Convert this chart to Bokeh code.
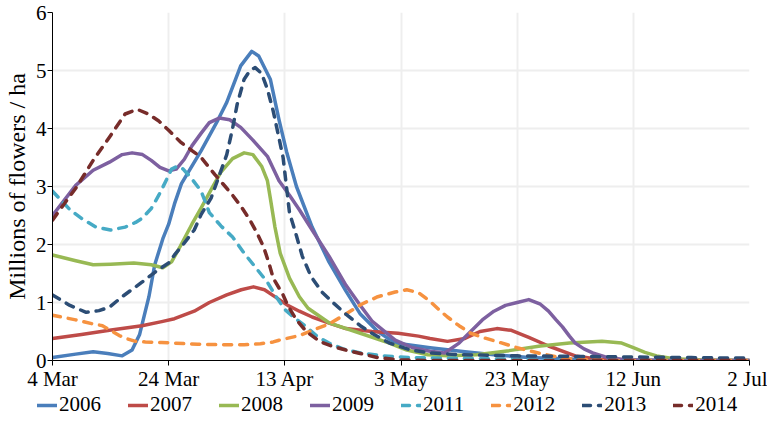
from bokeh.plotting import figure
from bokeh.models import Range1d, FixedTicker, Legend, LegendItem
from bokeh.layouts import column
from bokeh.embed import file_html
from bokeh.resources import INLINE

# x = days since 4 March
tick_days = [0, 20, 40, 60, 80, 100, 120]
tick_labels = ["4 Mar", "24 Mar", "13 Apr", "3 May", "23 May", "12 Jun", "2 Jul"]

years = ["2006", "2007", "2008", "2009", "2011", "2012", "2013", "2014"]
colors = ["#4A7EBB", "#BE4B48", "#98B954", "#7D60A0", "#46AAC5", "#F69240", "#2C4D75", "#772C2A"]
dashed = [False, False, False, False, True, True, True, True]

days_2006 = [0, 4, 7, 9.5, 12, 13.7, 15, 16.6, 17.6, 19, 20, 21, 22.2, 25.6, 28.5, 30, 32.4, 34.3, 35.5, 37.5,
             39, 40.3, 42, 44.7, 47.6, 50.5, 53, 56, 59, 65, 71, 76, 82, 90, 100, 110, 120]
vals_2006 = [0.05, 0.11, 0.15, 0.12, 0.08, 0.18, 0.45, 1.1, 1.65, 2.1, 2.35, 2.7, 3.05, 3.62, 4.15, 4.45, 5.08, 5.33, 5.25, 4.85,
             4.15, 3.6, 3.0, 2.3, 1.7, 1.2, 0.8, 0.5, 0.3, 0.22, 0.15, 0.1, 0.05, 0.02, 0.01, 0, 0]

days_2007 = [0, 5, 9.8, 15.4, 18.8, 21, 24.4, 27, 30, 32.5, 34.6, 36.5, 38.6, 40.5, 42.5, 44.7, 47.5, 50.5, 55, 59.5,
             63, 65, 68, 71, 73.6, 76.5, 79, 82, 85.4, 90, 94, 100, 120]
vals_2007 = [0.38, 0.45, 0.52, 0.6, 0.67, 0.72, 0.85, 1.0, 1.13, 1.22, 1.27, 1.22, 1.08, 0.95, 0.85, 0.75, 0.65, 0.55, 0.5, 0.47,
             0.42, 0.38, 0.33, 0.38, 0.5, 0.55, 0.52, 0.4, 0.25, 0.08, 0.02, 0, 0]

days_2008 = [0, 4, 7, 10, 14, 17, 19, 20.5, 22, 24, 25.6, 27.5, 29, 31, 33, 34.5, 36, 37, 37.5, 38.3,
             39.2, 40.8, 42.5, 44, 47.6, 53, 58, 61, 64.6, 68, 73, 78.6, 84, 89, 94.6, 98, 100, 102, 104, 107, 112, 120]
vals_2008 = [1.82, 1.72, 1.65, 1.66, 1.68, 1.65, 1.6, 1.7, 1.97, 2.35, 2.63, 2.98, 3.25, 3.48, 3.58, 3.55, 3.35, 3.1, 2.8, 2.3,
             1.85, 1.42, 1.1, 0.9, 0.65, 0.47, 0.3, 0.18, 0.1, 0.08, 0.1, 0.17, 0.25, 0.3, 0.33, 0.3, 0.22, 0.14, 0.08, 0.03, 0.01, 0]

days_2009 = [0, 4, 7, 9.8, 12, 13.7, 15.5, 17, 18.5, 20, 21.3, 22.7, 24, 25.6, 27, 28.7, 30.5, 32.4, 34.5, 37,
             39, 40.8, 42.5, 44.7, 47.6, 50.5, 53, 55, 59, 62, 65, 67.5, 70, 72, 74, 76, 78, 80, 82, 84,
             85.4, 86.7, 87.8, 89, 90, 91.5, 93, 95.6, 98, 102, 120]
vals_2009 = [2.5, 3.02, 3.28, 3.42, 3.55, 3.58, 3.55, 3.45, 3.33, 3.27, 3.3, 3.47, 3.7, 3.92, 4.1, 4.18, 4.15, 4.02, 3.8, 3.52,
             3.1, 2.85, 2.6, 2.25, 1.8, 1.3, 0.95, 0.68, 0.35, 0.22, 0.16, 0.13, 0.3, 0.5, 0.7, 0.85, 0.95, 1.0, 1.05, 0.97,
             0.85, 0.7, 0.58, 0.42, 0.3, 0.2, 0.13, 0.05, 0.02, 0, 0]

days_2011 = [0, 3, 5, 7.5, 10, 12.5, 14.3, 15.4, 17, 18.3, 19.3, 20.5, 21.5, 22.5, 24, 25.6, 27, 29, 31, 33,
             35, 37, 38.5, 40, 41.5, 43.7, 45.5, 47.6, 50, 53, 57, 61.7, 67, 75, 85, 95, 120]
vals_2011 = [2.92, 2.6, 2.45, 2.3, 2.25, 2.3, 2.38, 2.45, 2.62, 2.85, 3.05, 3.3, 3.35, 3.3, 3.13, 2.92, 2.55, 2.32, 2.13, 1.85,
             1.6, 1.35, 1.1, 0.88, 0.75, 0.58, 0.42, 0.3, 0.2, 0.13, 0.08, 0.05, 0.04, 0.03, 0.01, 0, 0]

days_2012 = [0, 4, 7, 8.6, 10, 11.5, 13, 14.3, 16, 18.8, 21, 25, 30, 33, 35.8, 38, 39, 42.5, 45, 47.6,
             50.5, 53.2, 56, 59, 61, 63, 65, 66.5, 68, 70, 72, 74, 76.4, 80, 84, 87, 90, 95, 120]
vals_2012 = [0.78, 0.7, 0.63, 0.6, 0.52, 0.43, 0.37, 0.33, 0.32, 0.31, 0.3, 0.28, 0.27, 0.27, 0.29, 0.32, 0.35, 0.43, 0.53, 0.63,
             0.8, 0.97, 1.1, 1.18, 1.22, 1.17, 1.02, 0.88, 0.75, 0.6, 0.47, 0.4, 0.33, 0.22, 0.12, 0.06, 0.02, 0, 0]

days_2013 = [0, 3, 5.8, 8, 9.8, 12, 15.4, 18, 20, 21, 22.5, 24.4, 25.6, 27.3, 28.5, 30, 31, 31.8, 33, 34,
             34.9, 36, 37, 38, 38.6, 39.7, 40.8, 42, 43, 44.5, 46.4, 48.5, 50.5, 53, 55, 58, 61.7, 65, 70, 80,
             90, 100, 110, 120]
vals_2013 = [1.13, 0.95, 0.83, 0.86, 0.92, 1.1, 1.35, 1.55, 1.68, 1.82, 2.0, 2.25, 2.52, 2.8, 3.13, 3.55, 4.0, 4.42, 4.85, 5.0,
             5.05, 4.95, 4.68, 4.3, 4.02, 3.5, 2.55, 2.15, 1.8, 1.45, 1.18, 0.98, 0.8, 0.6, 0.47, 0.3, 0.18, 0.13, 0.1, 0.08,
             0.07, 0.06, 0.05, 0.04]

days_2014 = [0, 2, 4, 7, 9.8, 12.5, 14.6, 16.5, 18.3, 20, 22, 24, 25.6, 28, 30, 31, 32.5, 34, 35.2, 36.3,
             37.2, 38, 39, 39.7, 40.5, 42, 43.7, 46, 48, 50.5, 53, 56, 60, 65, 120]
vals_2014 = [2.42, 2.7, 2.97, 3.45, 3.85, 4.25, 4.33, 4.25, 4.13, 3.97, 3.77, 3.62, 3.5, 3.2, 2.97, 2.85, 2.65, 2.42, 2.2, 1.97,
             1.7, 1.42, 1.25, 1.13, 0.95, 0.7, 0.5, 0.33, 0.25, 0.18, 0.12, 0.05, 0.01, 0, 0]

series_days = [days_2006, days_2007, days_2008, days_2009, days_2011, days_2012, days_2013, days_2014]
series_vals = [vals_2006, vals_2007, vals_2008, vals_2009, vals_2011, vals_2012, vals_2013, vals_2014]

FONT = "Liberation Serif"
LW = 3.5
DASH = "8 8"

p = figure(width=767, height=393, output_backend="svg", toolbar_location=None,
           x_range=Range1d(0, 120), y_range=Range1d(0, 6),
           min_border_top=12, min_border_right=18, min_border_left=41, min_border_bottom=0)
p.outline_line_color = None
p.background_fill_color = "white"

for ax in (p.xaxis[0], p.yaxis[0]):
    ax.axis_line_color = "black"
    ax.axis_line_width = 1
    ax.major_tick_line_color = "black"
    ax.major_tick_in = 0
    ax.major_tick_out = 5
    ax.minor_tick_line_color = None
    ax.major_label_text_font = FONT
    ax.major_label_text_font_size = "21px"
    ax.major_label_text_color = "black"
    ax.major_label_standoff = 1

p.xaxis.ticker = FixedTicker(ticks=tick_days)
p.xaxis.major_label_overrides = {d: l for d, l in zip(tick_days, tick_labels)}
p.yaxis.ticker = FixedTicker(ticks=[0, 1, 2, 3, 4, 5, 6])
p.yaxis.axis_label = "Millions of flowers / ha"
p.yaxis.axis_label_text_font = FONT
p.yaxis.axis_label_text_font_size = "24px"
p.yaxis.axis_label_text_font_style = "normal"
p.yaxis.axis_label_text_color = "black"
p.yaxis.axis_label_standoff = 3

p.xgrid.ticker = FixedTicker(ticks=tick_days)
p.ygrid.ticker = FixedTicker(ticks=[0, 1, 2, 3, 4, 5, 6])
for g in (p.xgrid[0], p.ygrid[0]):
    g.grid_line_color = "#EEEEEE"
    g.grid_line_width = 2

for c, dsh, xs, ys in zip(colors, dashed, series_days, series_vals):
    if dsh:
        p.line(xs, ys, line_color=c, line_width=LW, line_dash=DASH,
               line_cap="round", line_join="round")
    else:
        p.line(xs, ys, line_color=c, line_width=LW,
               line_cap="round", line_join="round")

# legend strip below the chart (proxy renderers lie outside the strip's range)
lg = figure(width=767, height=24, output_backend="svg", toolbar_location=None,
            x_range=Range1d(0, 1), y_range=Range1d(0, 1),
            x_axis_type=None, y_axis_type=None,
            min_border_top=0, min_border_bottom=0, min_border_left=0, min_border_right=0)
aligned = True
if "frame_align" in lg.properties():
    lg.frame_align = False
    p.frame_align = False
    aligned = False
lg.outline_line_color = None
lg.xgrid.visible = False
lg.ygrid.visible = False
items = []
for yr, c, dsh in zip(years, colors, dashed):
    if dsh:
        r = lg.line([5, 6], [5, 6], line_color=c, line_width=LW, line_dash=DASH, line_cap="round")
    else:
        r = lg.line([5, 6], [5, 6], line_color=c, line_width=LW, line_cap="round")
    items.append(LegendItem(label=yr, renderers=[r]))

legend = Legend(items=items, orientation="horizontal",
                location=(0, 0) if aligned else (37, 0),
                label_text_font=FONT, label_text_font_size="21px", label_text_color="black",
                glyph_width=20, glyph_height=20, label_height=20, label_standoff=2,
                spacing=24 if aligned else 27,
                padding=2, margin=0, border_line_color=None, background_fill_alpha=0)
lg.add_layout(legend, "center")

layout = column(p, lg, spacing=0)
open("out.html", "w").write(file_html(layout, INLINE))
